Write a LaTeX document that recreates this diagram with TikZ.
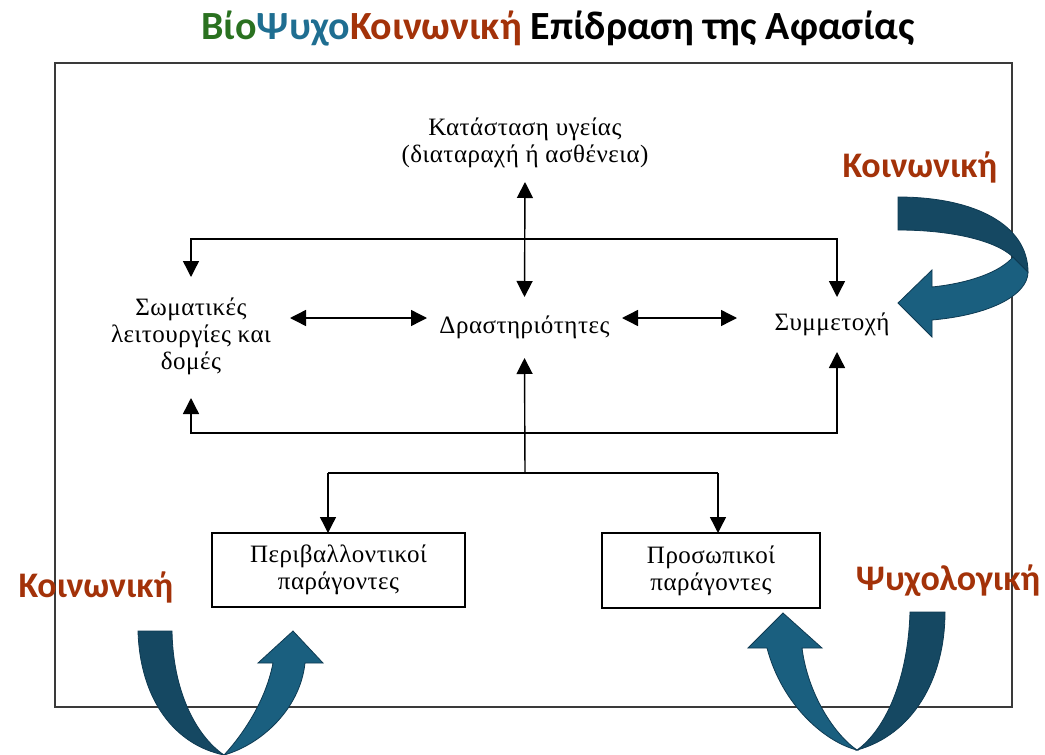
\documentclass[tikz,border=0pt]{standalone}
\usepackage{fontspec}
\setmainfont{Liberation Serif}[LetterSpace=2]
\newfontfamily\calibrifont{Carlito}
\usetikzlibrary{arrows.meta}

\definecolor{bioGreen}{HTML}{2A7120}
\definecolor{psyBlue}{HTML}{1F6E91}
\definecolor{socRust}{HTML}{A33209}
\definecolor{ribbonDark}{HTML}{154862}
\definecolor{ribbonLight}{HTML}{1A5F7F}
\definecolor{ribbonEdge}{HTML}{0E3A52}
\definecolor{frameGray}{HTML}{3A3A3A}

\begin{document}
\begin{tikzpicture}[x=1pt,y=-1pt,
  serifText/.style={font=\fontsize{25}{27}\selectfont, align=center, inner sep=0pt, outer sep=0pt},
  factorBox/.style={serifText, draw, line width=1.5pt},
  conn/.style={line width=1.4pt},
  arr/.style={conn, -{Triangle[length=16pt,width=16pt]}},
  darr/.style={conn, {Triangle[length=16pt,width=16pt]}-{Triangle[length=16pt,width=16pt]}},
  tag/.style={font=\calibrifont\bfseries\fontsize{36}{40}\selectfont, text=socRust, inner sep=0pt, anchor=base},
  ribbonBack/.style={fill=ribbonDark, draw=ribbonEdge, line width=0.8pt},
  ribbonFront/.style={fill=ribbonLight, draw=ribbonEdge, line width=0.8pt}]

\useasboundingbox (0,0) rectangle (1045,755);

% title
\node[font=\calibrifont\bfseries\fontsize{40}{44}\selectfont, inner sep=0pt, anchor=base] (title) at (558,39)
  {\textcolor{bioGreen}{Βίο}\textcolor{psyBlue}{Ψυχο}\textcolor{socRust}{Κοινωνική} Επίδραση της Αφασίας};

% frame
\draw[frameGray, line width=2pt] (55,63) rectangle (1012,707);

% concept nodes (sizes set so the anchors meet the arrow tips)
\node[serifText, minimum width=240pt, minimum height=78pt] (health) at (525,143)
  {Κατάσταση υγείας\\(διαταραχή ή ασθένεια)};
\node[serifText, minimum width=198pt, minimum height=121pt] (body) at (191,337.5)
  {\raisebox{2pt}{\begin{tabular}{@{}c@{}}Σωματικές\\λειτουργίες και\\δομές\end{tabular}}};
\node[serifText, minimum width=195pt, minimum height=61pt] (act) at (524.5,327.5)
  {\raisebox{4.5pt}{Δραστηριότητες}};
\node[serifText, minimum width=200pt, minimum height=55pt] (part) at (837,324.5)
  {\raisebox{2.5pt}{Συμμετοχή\hspace*{10pt}}};
\node[factorBox, minimum width=253pt, minimum height=74pt] (env) at (338.5,570)
  {Περιβαλλοντικοί\\παράγοντες};
\node[factorBox, minimum width=218pt, minimum height=75pt] (pers) at (711,570.5)
  {Προσωπικοί\\παράγοντες};

% rows and junctions
\coordinate (toprow) at (0,239);
\coordinate (midrow) at (0,318);
\coordinate (botrow) at (0,433);
\coordinate (jl) at (328,473);
\coordinate (jc) at (525,473);
\coordinate (jr) at (718,473);

% connectors
\draw[darr] (health.south) -- (act.north);
\draw[darr] (body.east |- midrow) -- (act.west |- midrow);
\draw[darr] (act.east |- midrow) -- (part.west |- midrow);
\draw[darr] (body.north) -- (body.north |- toprow) -- (part.north |- toprow) -- (part.north);
\draw[darr] (body.south) -- (body.south |- botrow) -- (part.south |- botrow) -- (part.south);
\draw[arr] (jc) -- (act.south);
\draw[conn] (jl) -- (jr);
\draw[arr] (jl) -- (jl |- env.north);
\draw[arr] (jr) -- (jr |- pers.north);

% ribbon arrow, upper right
\fill[ribbonFront] (1013,257) -- (1028,272) .. controls (1028,295) and (990,315) .. (932,320)
  -- (932,337) -- (898,303) -- (932,270) -- (932,287)
  .. controls (970,283) and (1000,272) .. (1013,257) -- cycle;
\fill[ribbonBack] (898,197) .. controls (975,197) and (1028,225) .. (1028,272)
  -- (1013,257) .. controls (995,240) and (950,230) .. (898,230) -- cycle;

% ribbon arrow, lower left
\fill[ribbonBack] (138,631) -- (172,631) .. controls (173,690) and (195,735) .. (224,755)
  .. controls (175,745) and (140,700) .. (138,631) -- cycle;
\fill[ribbonFront] (224,755) .. controls (238,740) and (265,705) .. (273,663)
  -- (258,663) -- (293,631) -- (323,663) -- (305,663)
  .. controls (300,710) and (260,745) .. (224,755) -- cycle;

% ribbon arrow, lower right
\fill[ribbonBack] (910,612) -- (945,612) .. controls (945,680) and (912,735) .. (857,750)
  .. controls (885,730) and (908,680) .. (910,612) -- cycle;
\fill[ribbonFront] (857,750) .. controls (825,742) and (782,705) .. (767,648)
  -- (748,648) -- (783,613) -- (822,648) -- (802,648)
  .. controls (808,695) and (835,735) .. (857,750) -- cycle;

% labels
\node[tag] (socTop) at (920,177) {Κοινωνική};
\node[tag] (socLeft) at (96,597) {Κοινωνική};
\node[tag] (psy) at (948,590) {Ψυχολογική};
\end{tikzpicture}
\end{document}
